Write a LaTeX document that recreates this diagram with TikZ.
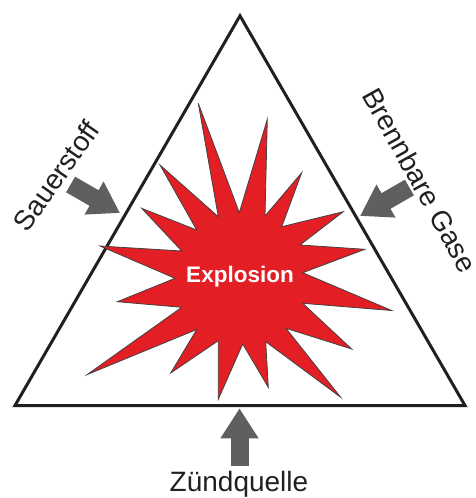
\documentclass[tikz,border=0pt]{standalone}
\usepackage{fontspec}
\setmainfont{Liberation Sans}
\usetikzlibrary{arrows.meta}
\definecolor{fireInk}{HTML}{231F20}
\definecolor{fireRed}{HTML}{E31E24}
\definecolor{fireGray}{HTML}{5F5F5F}
\tikzset{
  every picture/.style={font=\fontsize{28}{30}\selectfont, text=fireInk},
  fire triangle/.style={draw=fireInk, line width=3pt, line join=miter},
  fire star/.style={fill=fireRed, draw=fireInk!85, line width=0.8pt, line join=miter},
  fire arrow/.style={-{Triangle[length=30pt,width=36pt]},
    draw=fireGray, line width=18pt, line cap=butt},
  fire label/.style={inner sep=0pt},
  blast label/.style={font=\bfseries\fontsize{22.5}{24}\selectfont, text=white, inner sep=0pt}
}

\begin{document}
\begin{tikzpicture}[x=1pt,y=-1pt]
  \useasboundingbox (0,0) rectangle (475,498);
  % fire triangle
  \coordinate (top) at (240,15.8);
  \coordinate (left) at (15,405.5);
  \coordinate (right) at (465,405.5);
  \draw[fire triangle] (top) -- (left) -- (right) -- cycle;
  % explosion
  \draw[fire star] (198.3,103.3) -- (239.3,212.7) -- (267.3,119.3) -- (265,216)
    -- (301.7,172.7) -- (281.7,226.7) -- (343.3,211.7) -- (300,245)
    -- (365,249.3) -- (302.7,272.7) -- (391.7,310.5) -- (302.7,303.3)
    -- (351.7,349) -- (286,328.3) -- (340.7,397.3) -- (265.7,341.7)
    -- (268.3,387.3) -- (242.7,344) -- (218.3,399.3) -- (218.3,340.7)
    -- (170.7,373) -- (196.7,329.5) -- (87.3,374.5) -- (181.7,307.3)
    -- (117.3,301.7) -- (175,278.3) -- (100,246) -- (181.7,251)
    -- (141.7,208.3) -- (196.7,230) -- (160,165) -- (218.3,216.7) -- cycle;
  \node[blast label, anchor=base] (blast) at (240,282.7) {Explosion};
  % the three inputs
  \node[fire label, rotate=55] (oxygen) at (56,176) {Sauerstoff};
  \node[fire label, rotate=-61] (fuel) at (420,180) {Brennbare Gase};
  \node[fire label, anchor=base] (ignition) at (239,491.7) {Zündquelle};
  \coordinate (oxygen tail) at (70.6,184.5);
  \coordinate (oxygen tip) at (120,213);
  \coordinate (fuel tail) at (409.4,187.5);
  \coordinate (fuel tip) at (360,216);
  \coordinate (ignition tail) at (239.5,466);
  \coordinate (ignition tip) at (239.5,408.3);
  \draw[fire arrow] (oxygen tail) -- (oxygen tip);
  \draw[fire arrow] (fuel tail) -- (fuel tip);
  \draw[fire arrow] (ignition tail) -- (ignition tip);
\end{tikzpicture}
\end{document}
